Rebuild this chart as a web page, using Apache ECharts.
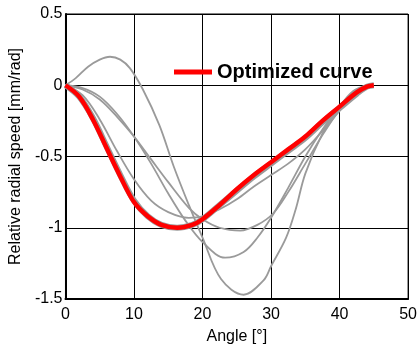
<!DOCTYPE html>
<html>
<head>
<meta charset="utf-8">
<script src="https://cdn.jsdelivr.net/npm/echarts@6/dist/echarts.min.js"></script>
<style>html,body{margin:0;padding:0;background:#fff}#c{width:420px;height:350px}</style>
</head>
<body>
<div id="c"></div>
<script>
var optimizedAngles = [0, 2, 4, 6, 8, 10, 12, 14, 16.3, 18.5, 20, 22.5, 25, 27.5, 30, 32.5, 35, 37.5, 40, 42.5, 44, 45];
var optimizedValues = [0, -0.08, -0.24, -0.44, -0.64, -0.82, -0.92, -0.98, -1.0, -0.98, -0.94, -0.84, -0.73, -0.63, -0.54, -0.45, -0.36, -0.25, -0.15, -0.05, -0.01, 0];
var shadowValues = [0, -0.08, -0.23, -0.43, -0.63, -0.81, -0.92, -0.98, -1.0, -0.98, -0.94, -0.84, -0.74, -0.64, -0.55, -0.46, -0.37, -0.26, -0.16, -0.06, -0.01, 0];
var peakAngles = [0, 1.5, 3.3, 5, 6.5, 8, 9.4, 11.3, 13.7, 15.8, 18, 20, 22.7, 26, 28.9, 30, 32.2, 33.6, 35, 37.5, 40, 42, 44];
var peakValues = [0, 0.05, 0.13, 0.18, 0.2, 0.18, 0.12, -0.03, -0.28, -0.57, -0.84, -1.07, -1.36, -1.47, -1.37, -1.27, -1.07, -0.87, -0.62, -0.34, -0.15, -0.04, 0];
var deepAngles = [0, 2.5, 5, 7.5, 10, 12.5, 15, 17.5, 20, 23.3, 26, 28, 30, 32.5, 35, 37.5, 40, 42, 44];
var deepValues = [0, -0.02, -0.08, -0.2, -0.36, -0.55, -0.76, -0.95, -1.1, -1.21, -1.17, -1.07, -0.93, -0.72, -0.5, -0.31, -0.15, -0.05, 0];
var midAngles = [0, 2.5, 5, 7.5, 10, 12.5, 15, 18, 20, 22.5, 25.5, 28, 30.3, 32.5, 35, 37.5, 40, 42, 44];
var midValues = [0, -0.03, -0.1, -0.22, -0.36, -0.52, -0.68, -0.86, -0.94, -1.0, -1.02, -0.98, -0.9, -0.75, -0.55, -0.35, -0.17, -0.05, 0];
var nearAngles = [0, 2.5, 5, 7.5, 10, 12.5, 15, 18, 20, 22.5, 25, 27.5, 30, 32.5, 35, 37.5, 40, 42, 44];
var nearValues = [0, -0.07, -0.24, -0.46, -0.66, -0.81, -0.89, -0.93, -0.92, -0.87, -0.8, -0.71, -0.63, -0.55, -0.45, -0.32, -0.18, -0.07, 0];
var xTicks = [0, 10, 20, 30, 40, 50];
var yTicks = [-1.5, -1, -0.5, 0, 0.5];

function pairs(xs, ys) { return xs.map(function (x, i) { return [x, ys[i]]; }); }
var FONT = 'Liberation Sans, Arial, sans-serif';
function graySeries(xs, ys, w) {
  return { type: 'line', data: pairs(xs, ys), smooth: 0.35, showSymbol: false, silent: true,
           lineStyle: { color: '#9a9a9a', width: w || 1.8 }, z: 2 };
}
var chart = echarts.init(document.getElementById('c'), null, { renderer: 'canvas' });
chart.setOption({
  animation: false,
  backgroundColor: '#fff',
  grid: { left: 64, right: 5, top: 14, bottom: 46, show: true, borderColor: '#000', borderWidth: 1 },
  legend: {
    data: [{ name: 'Optimized curve', icon: 'rect' }],
    left: 169, top: 57, itemWidth: 38, itemHeight: 5, itemGap: 6,
    textStyle: { fontFamily: FONT, fontSize: 20, fontWeight: 'bold', color: '#000' }
  },
  xAxis: {
    type: 'value', min: xTicks[0], max: xTicks[xTicks.length - 1], interval: 10,
    name: 'Angle [°]', nameLocation: 'middle', nameGap: 30,
    nameTextStyle: { fontFamily: FONT, fontSize: 16, color: '#000' },
    axisLine: { show: true, onZero: false, lineStyle: { color: '#000', width: 2 } },
    axisTick: { show: false },
    axisLabel: { fontFamily: FONT, fontSize: 16, color: '#000', margin: 8 },
    splitLine: { show: true, lineStyle: { color: '#000', width: 1 } }
  },
  yAxis: {
    type: 'value', min: yTicks[0], max: yTicks[yTicks.length - 1], interval: 0.5,
    name: 'Relative radial speed [mm/rad]', nameLocation: 'middle', nameGap: 37,
    nameTextStyle: { fontFamily: FONT, fontSize: 16, color: '#000' },
    axisLine: { show: true, onZero: false, lineStyle: { color: '#000', width: 2 } },
    axisTick: { show: false },
    axisLabel: { fontFamily: FONT, fontSize: 16, color: '#000', margin: 3 },
    splitLine: { show: true, lineStyle: { color: '#000', width: 1 } }
  },
  series: [
    graySeries(peakAngles, peakValues),
    graySeries(deepAngles, deepValues),
    graySeries(midAngles, midValues),
    graySeries(nearAngles, nearValues),
    graySeries(optimizedAngles, shadowValues, 6),
    { name: 'Optimized curve', type: 'line', data: pairs(optimizedAngles, optimizedValues), smooth: 0.35, showSymbol: false,
      itemStyle: { color: '#ff0000' }, lineStyle: { color: '#ff0000', width: 4.5 }, z: 5 }
  ]
});
</script>
</body>
</html>
